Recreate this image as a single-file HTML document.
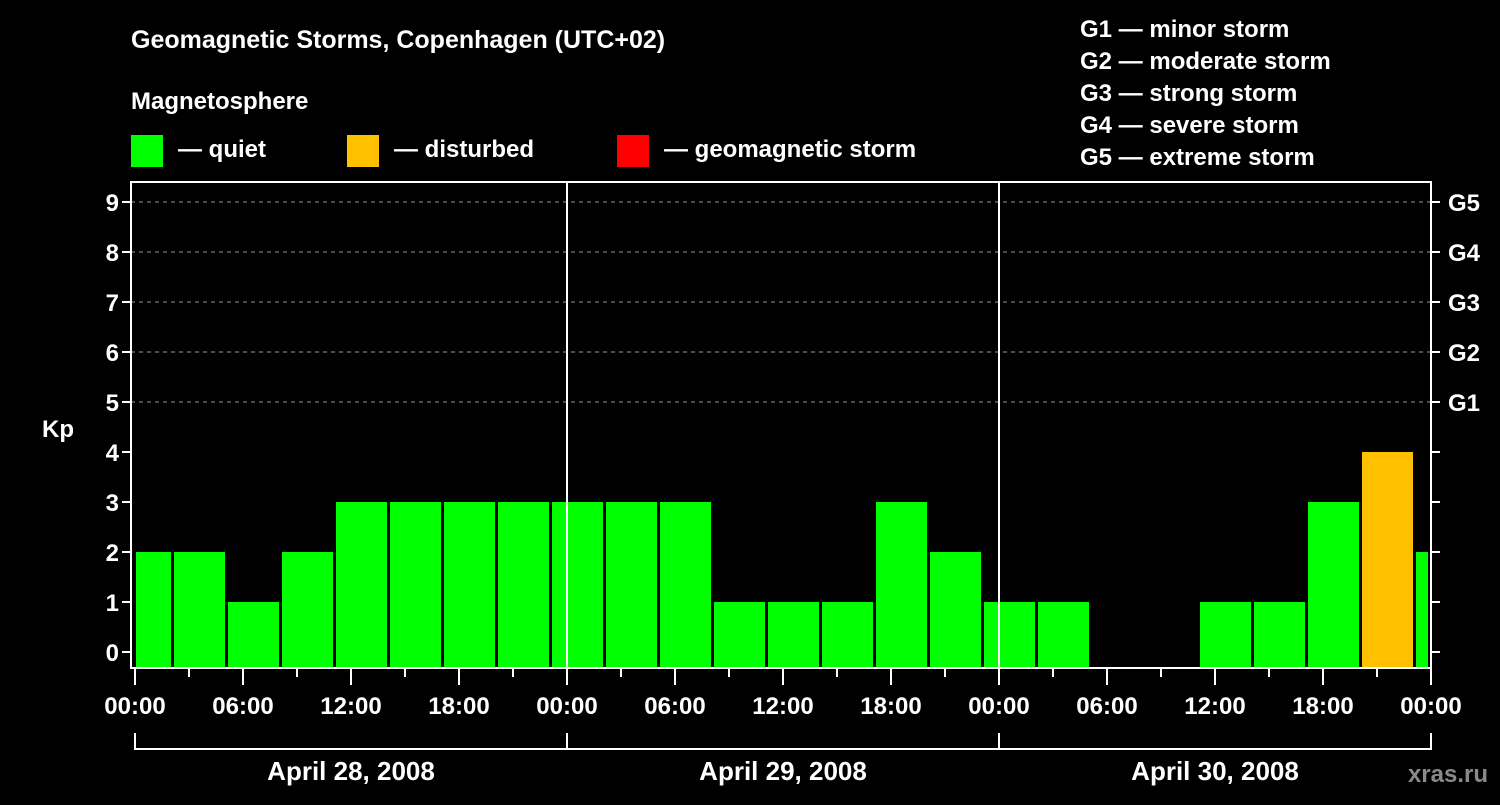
<!DOCTYPE html>
<html><head><meta charset="utf-8"><style>
body{margin:0;background:#000;width:1500px;height:800px;overflow:hidden}
svg text{font-family:"Liberation Sans",sans-serif;font-weight:bold;fill:#fff}
</style></head><body>
<svg id="c" width="1500" height="800">
<text x="131" y="48" font-size="25">Geomagnetic Storms, Copenhagen (UTC+02)</text>
<text x="131" y="109" font-size="24">Magnetosphere</text>
<rect x="131" y="135" width="32" height="32" fill="#00ff00"/>
<text x="178" y="157" font-size="24">— quiet</text>
<rect x="347" y="135" width="32" height="32" fill="#ffc000"/>
<text x="394" y="157" font-size="24">— disturbed</text>
<rect x="617" y="135" width="32" height="32" fill="#ff0000"/>
<text x="664" y="157" font-size="24">— geomagnetic storm</text>
<g font-size="24">
<text x="1080" y="37">G1 — minor storm</text>
<text x="1080" y="69">G2 — moderate storm</text>
<text x="1080" y="101">G3 — strong storm</text>
<text x="1080" y="133">G4 — severe storm</text>
<text x="1080" y="165">G5 — extreme storm</text>
</g>
<text x="42" y="437" font-size="24">Kp</text>
<text x="1488" y="782" font-size="24" text-anchor="end" fill="#888" style="fill:#8a8a8a">xras.ru</text>
<g id="g"></g>
</svg>
<script>
const kpValues=[2,2,1,2,3,3,3,3,3,3,3,1,1,1,3,2,1,1,null,null,1,1,3,4,2];
const kpTicks=[0,1,2,3,4,5,6,7,8,9];
const gLabels=["G1","G2","G3","G4","G5"];
const hourLabels=["00:00","06:00","12:00","18:00"];
const dayLabels=["April 28, 2008","April 29, 2008","April 30, 2008"];
const X0=135,DAY=432,L=131,R=1431,T=182,B=668;
const y=v=>652-50*v;
const xh=h=>X0+h*DAY/24; // hours from start (local)
const g=document.getElementById('g'),NS='http://www.w3.org/2000/svg';
function mk(t,a){const e=document.createElementNS(NS,t);for(const k in a)e.setAttribute(k,a[k]);g.appendChild(e);return e;}
kpTicks.forEach(k=>{
 if(k>=5){const l=mk('line',{x1:L,x2:R,y1:y(k),y2:y(k),stroke:'#999','stroke-dasharray':'4 4','stroke-width':1});
 
 }
 const t1=mk('line',{x1:L-9,x2:L,y1:y(k),y2:y(k),stroke:'#fff','stroke-width':2});
 
 
 const t2=mk('line',{x1:R,x2:R+9,y1:y(k),y2:y(k),stroke:'#fff','stroke-width':2});
 
 
 const tx=mk('text',{x:L-12,y:y(k)+9,'font-size':24,'text-anchor':'end'});tx.textContent=k;
 
 
});
gLabels.forEach((s,i)=>{const tx=mk('text',{x:1448,y:y(5+i)+9,'font-size':24});tx.textContent=s;
 
 });
kpValues.forEach((v,i)=>{
 if(v===null)return;
 let a=xh(-1+3*i)+3,b=xh(2+3*i);
 a=Math.max(a,X0+1);b=Math.min(b,R-3);
 const r=mk('rect',{x:a,y:y(v),width:b-a,height:B-y(v),fill:v>=5?'#ff0000':v>=4?'#ffc000':'#00ff00'});
 
 
});
[1,2].forEach(d=>{const l=mk('line',{x1:X0+d*DAY,x2:X0+d*DAY,y1:T,y2:B,stroke:'#fff','stroke-width':2});
 
 });
const fr=mk('rect',{x:L,y:T,width:R-L,height:B-T,fill:'none',stroke:'#fff','stroke-width':2});


for(let h=0;h<=72;h+=3){
 const l=mk('line',{x1:xh(h),x2:xh(h),y1:B,y2:h%6?677:685,stroke:'#fff','stroke-width':2});
 
 
 if(h%6===0){const tx=mk('text',{x:xh(h),y:714,'font-size':24,'text-anchor':'middle'});tx.textContent=hourLabels[(h%24)/6];
 
 }
}
const br=mk('line',{x1:X0,x2:R,y1:749,y2:749,stroke:'#fff','stroke-width':2});


for(let d=0;d<=3;d++){const l=mk('line',{x1:X0+d*DAY,x2:X0+d*DAY,y1:733,y2:750,stroke:'#fff','stroke-width':2});
 
 }
dayLabels.forEach((s,d)=>{const tx=mk('text',{x:X0+d*DAY+DAY/2,y:780,'font-size':26,'text-anchor':'middle'});tx.textContent=s;
 
 });
</script>
</body></html>
